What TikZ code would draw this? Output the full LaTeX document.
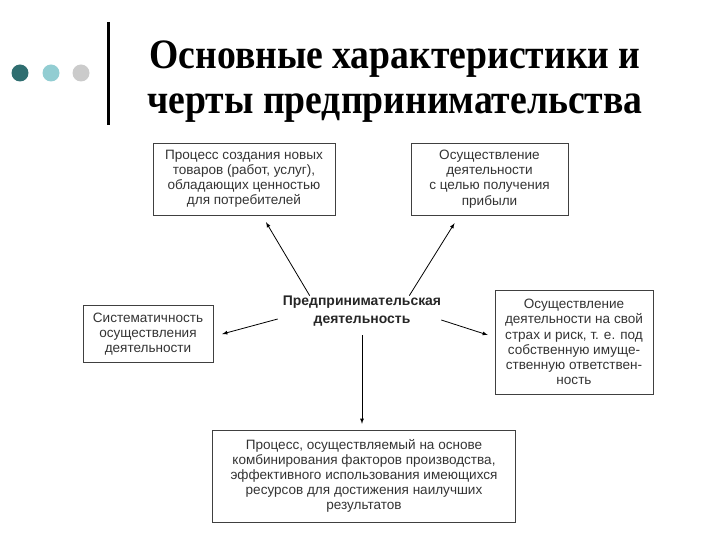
\documentclass[tikz,border=0pt]{standalone}
\usepackage{fontspec}
\setmainfont{Liberation Serif}
\newfontfamily\boxfont{Liberation Sans}
\usetikzlibrary{arrows, positioning}
\definecolor{dotdark}{HTML}{2F6E70}
\definecolor{dotlight}{HTML}{92CDD2}
\definecolor{dotgray}{HTML}{CBCBCB}

\begin{document}
\begin{tikzpicture}[x=1bp, y=-1bp,
		box/.style={rectangle, draw=black!75, thin, align=center, inner sep=2bp, font=\boxfont\fontsize{13.6}{15.2}\selectfont, text=black!80},
		core/.style={align=center, inner sep=0pt, font=\boxfont\bfseries\fontsize{14}{18}\selectfont, text=black!85},
		dot/.style={circle, minimum size=17bp, inner sep=0pt},
		arrow/.style={-latex, line width=0.8bp}
		]
		\useasboundingbox (0,0) rectangle (720,540);
		
		% header
		\node[dot, fill=dotdark] (d1) at (20,73) {};
		\node[dot, fill=dotlight] (d2) at (51,73) {};
		\node[dot, fill=dotgray] (d3) at (81,73) {};
		\draw[line width=3bp] (108,22) -- (108,125);
		\node[align=center, xscale=0.9, font=\bfseries\fontsize{42}{45}\selectfont] (title) at (395,82) {Основные характеристики и\\черты предпринимательства};
		
		% scheme
		\node[core] (act) at (362,311) {Предпринимательская\\деятельность};
		\node[box, minimum width=182bp, minimum height=72bp] (new) at (244,179) {Процесс создания новых\\товаров (работ, услуг),\\обладающих ценностью\\для потребителей};
		\node[box, minimum width=157bp, minimum height=72bp] (profit) at (489.5,179) {Осуществление\\деятельности\\с целью получения\\прибыли};
		\node[box, minimum width=130bp, minimum height=57bp] (sys) at (148,334) {Систематичность\\осуществления\\деятельности};
		\node[box, minimum width=158bp, minimum height=104bp] (risk) at (574,342) {Осуществление\\деятельности на свой\\страх и риск, т. е. под\\собственную имуще-\\ственную ответствен-\\ность};
		\node[box, minimum width=303bp, minimum height=92bp] (comb) at (364,476) {Процесс, осуществляемый на основе\\комбинирования факторов производства,\\эффективного использования имеющихся\\ресурсов для достижения наилучших\\результатов};
		
		\draw[arrow] ([xshift=27bp]act.north west) -- ([xshift=22bp, yshift=-7bp]new.south);
		\draw[arrow] ([xshift=-32bp]act.north east) -- ([xshift=-35bp, yshift=-8bp]profit.south);
		\draw[arrow] ([xshift=-5bp, yshift=-8bp]act.west) -- ([xshift=9bp]sys.east);
		\draw[arrow] ([yshift=-9bp]act.east) -- ([xshift=-7bp, yshift=7bp]risk.west);
		\draw[arrow] ([yshift=-9bp]act.south) -- ([yshift=6bp]act.south |- comb.north);
	\end{tikzpicture}
\end{document}
